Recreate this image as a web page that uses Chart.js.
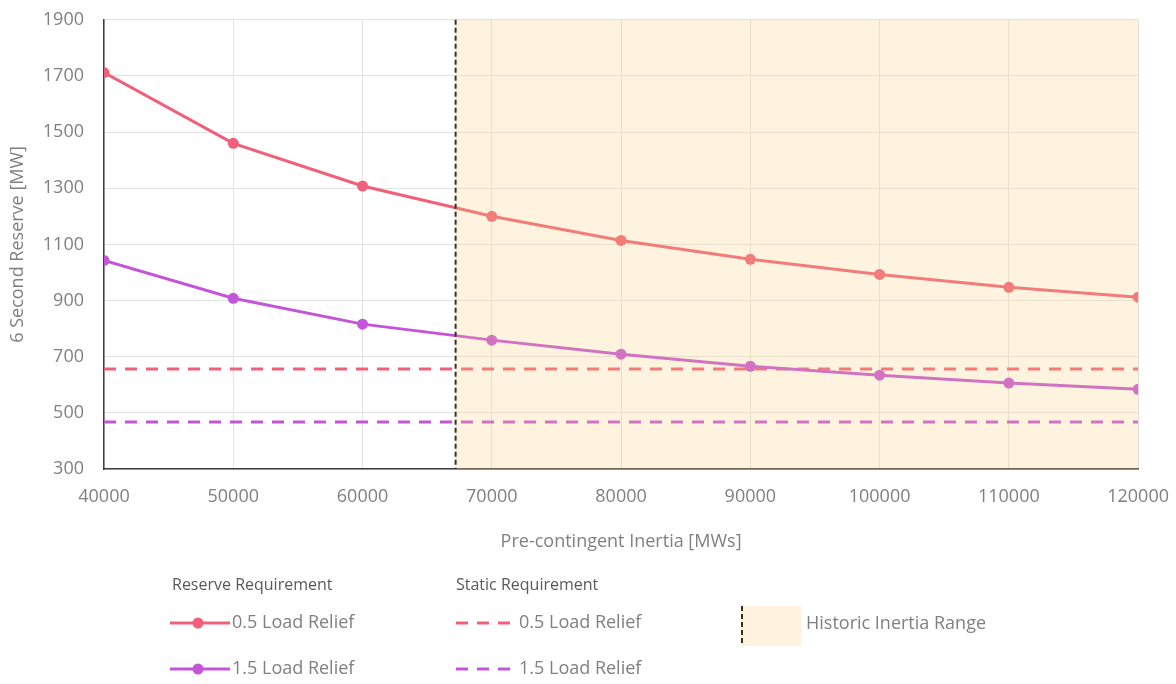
<!DOCTYPE html>
<html>
<head>
<meta charset="utf-8">
<script src="https://cdn.jsdelivr.net/npm/chart.js@4"></script>
<style>
  html, body { margin: 0; padding: 0; background: #fff; overflow: hidden; }
  #wrap { width: 1176px; height: 684px; position: relative; overflow: hidden; }
  #reserveChart { position: absolute; left: 0; top: -11px; }
</style>
</head>
<body>
<div id="wrap"><canvas id="reserveChart" width="1186" height="695"></canvas></div>
<script>
// inertia values (MWs) and the reserve needed at each
const inertia = [40000, 50000, 60000, 70000, 80000, 90000, 100000, 110000, 120000];
const reserve05 = [1712, 1460, 1308, 1200, 1114, 1047, 993, 947, 912];
const reserve15 = [1043, 908, 816, 759, 709, 666, 634, 606, 584];
const static05 = [656, 656];
const static15 = [467, 467];
const staticRange = [40000, 120000];
const historicRange = [67200, 120000];
const yTicks = [300, 500, 700, 900, 1100, 1300, 1500, 1700, 1900];

const red = '#f0607a';
const purple = '#c455d8';
const textGrey = '#808080';
const fontFamily = '"Open Sans", "Noto Sans", sans-serif';
const off = 11; // canvas sits 11px above the page

window.onload = function() {
    const pts = (xs, ys) => xs.map((x, i) => ({ x: x, y: ys[i] }));

    // beige shade for the historic range, drawn over the lines
    const historicShade = {
        id: 'historicShade',
        afterDatasetsDraw(chart) {
            const { ctx, chartArea, scales } = chart;
            const x0 = scales.x.getPixelForValue(historicRange[0]);
            const x1 = scales.x.getPixelForValue(historicRange[1]);
            ctx.save();
            ctx.fillStyle = 'rgba(247, 207, 123, 0.25)';
            ctx.fillRect(x0, chartArea.top, x1 - x0, chartArea.bottom - chartArea.top);
            ctx.strokeStyle = '#3b3020';
            ctx.lineWidth = 2;
            ctx.setLineDash([5, 3]);
            ctx.beginPath();
            ctx.moveTo(x0, chartArea.top);
            ctx.lineTo(x0, chartArea.bottom);
            ctx.stroke();
            ctx.restore();
        }
    };

    // legend block under the chart
    const customLegend = {
        id: 'customLegend',
        afterDraw(chart) {
            const ctx = chart.ctx;
            ctx.save();
            ctx.translate(0, off);
            ctx.textBaseline = 'middle';
            ctx.fillStyle = '#595959';
            ctx.font = '16px ' + fontFamily;
            ctx.fillText('Reserve Requirement', 172, 585);
            ctx.fillText('Static Requirement', 456, 585);

            ctx.font = '18px ' + fontFamily;
            const rows = [
                { y: 623, color: red, label: '0.5 Load Relief' },
                { y: 669, color: purple, label: '1.5 Load Relief' }
            ];
            rows.forEach(r => {
                // solid line with marker
                ctx.strokeStyle = r.color;
                ctx.lineWidth = 3;
                ctx.setLineDash([]);
                ctx.beginPath();
                ctx.moveTo(170, r.y);
                ctx.lineTo(230, r.y);
                ctx.stroke();
                ctx.fillStyle = r.color;
                ctx.beginPath();
                ctx.arc(198, r.y, 5.5, 0, Math.PI * 2);
                ctx.fill();
                ctx.fillStyle = textGrey;
                ctx.fillText(r.label, 232, r.y);

                // dashed line
                ctx.strokeStyle = r.color;
                ctx.setLineDash([12, 9]);
                ctx.beginPath();
                ctx.moveTo(456, r.y);
                ctx.lineTo(517, r.y);
                ctx.stroke();
                ctx.setLineDash([]);
                ctx.fillStyle = textGrey;
                ctx.fillText(r.label, 519, r.y);
            });

            // historic range swatch
            ctx.fillStyle = '#fdf3de';
            ctx.fillRect(741, 606, 60, 40);
            ctx.strokeStyle = '#3b3020';
            ctx.lineWidth = 2;
            ctx.setLineDash([5, 3]);
            ctx.beginPath();
            ctx.moveTo(742, 606);
            ctx.lineTo(742, 646);
            ctx.stroke();
            ctx.setLineDash([]);
            ctx.fillStyle = textGrey;
            ctx.fillText('Historic Inertia Range', 806, 624);
            ctx.restore();
        }
    };

    const ctx = document.getElementById('reserveChart').getContext('2d');
    new Chart(ctx, {
        type: 'line',
        data: {
            datasets: [{
                label: 'Reserve 0.5 Load Relief',
                data: pts(inertia, reserve05),
                borderColor: red,
                backgroundColor: red,
                borderWidth: 3,
                pointRadius: 5.5,
                pointBorderWidth: 0
            }, {
                label: 'Reserve 1.5 Load Relief',
                data: pts(inertia, reserve15),
                borderColor: purple,
                backgroundColor: purple,
                borderWidth: 3,
                pointRadius: 5.5,
                pointBorderWidth: 0
            }, {
                label: 'Static 0.5 Load Relief',
                data: pts(staticRange, static05),
                borderColor: red,
                borderWidth: 3,
                borderDash: [12, 9],
                pointRadius: 0
            }, {
                label: 'Static 1.5 Load Relief',
                data: pts(staticRange, static15),
                borderColor: purple,
                borderWidth: 3,
                borderDash: [12, 9],
                pointRadius: 0
            }]
        },
        options: {
            responsive: false,
            animation: false,
            layout: {
                padding: { left: 0, top: 8, right: 31, bottom: 131 }
            },
            plugins: {
                legend: { display: false },
                tooltip: { enabled: false }
            },
            scales: {
                x: {
                    type: 'linear',
                    min: 40000,
                    max: 120000,
                    afterFit: s => { s.height = 84; },
                    ticks: {
                        stepSize: 10000,
                        color: textGrey,
                        font: { family: fontFamily, size: 18 },
                        padding: 17,
                        maxRotation: 0,
                        callback: v => String(v)
                    },
                    grid: { color: '#e3e3e3', drawTicks: false },
                    border: { color: '#404040', width: 1.5 },
                    title: {
                        display: true,
                        text: 'Pre-contingent Inertia [MWs]',
                        color: textGrey,
                        font: { family: fontFamily, size: 18 },
                        padding: { top: 4, bottom: 0 }
                    }
                },
                y: {
                    min: 300,
                    max: 1900,
                    afterFit: s => { s.width = 104; },
                    afterBuildTicks: s => { s.ticks = yTicks.map(v => ({ value: v })); },
                    ticks: {
                        color: textGrey,
                        font: { family: fontFamily, size: 18 },
                        padding: 20,
                        callback: v => String(v)
                    },
                    grid: { color: '#e3e3e3', drawTicks: false },
                    border: { color: '#404040', width: 1.5 },
                    title: {
                        display: true,
                        text: '6 Second Reserve [MW]',
                        color: textGrey,
                        font: { family: fontFamily, size: 18 },
                        padding: { top: 7, bottom: 0 }
                    }
                }
            }
        },
        plugins: [historicShade, customLegend]
    });
};
</script>
</body>
</html>
